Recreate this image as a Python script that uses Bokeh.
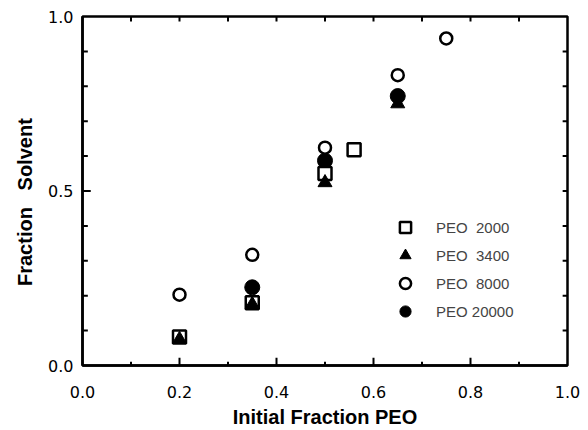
from bokeh.plotting import figure
from bokeh.models import FixedTicker, Legend, LegendItem, Range1d, CustomJSTickFormatter
from bokeh.embed import file_html
from bokeh.resources import INLINE

# Data
x_2000 = [0.20, 0.35, 0.50, 0.56]
y_2000 = [0.082, 0.18, 0.55, 0.618]

x_3400 = [0.20, 0.35, 0.50, 0.65]
y_3400 = [0.075, 0.175, 0.524, 0.75]

x_8000 = [0.20, 0.35, 0.50, 0.65, 0.75]
y_8000 = [0.203, 0.317, 0.624, 0.832, 0.937]

x_20000 = [0.35, 0.50, 0.65]
y_20000 = [0.224, 0.587, 0.772]

series_labels = ["PEO\u00a0\u00a02000", "PEO\u00a0\u00a03400", "PEO\u00a0\u00a08000", "PEO 20000"]
x_ticks = [0.0, 0.2, 0.4, 0.6, 0.8, 1.0]
x_minor = [0.1, 0.3, 0.5, 0.7, 0.9]
y_ticks = [0.0, 0.5, 1.0]
y_minor = [0.1, 0.2, 0.3, 0.4, 0.6, 0.7, 0.8, 0.9]
frame_ticks = [0.1, 0.2, 0.3, 0.4, 0.5, 0.6, 0.7, 0.8, 0.9]

FONT = "Liberation Sans"
TICK_FONT = "DejaVu Sans"

p = figure(width=586, height=430, output_backend="svg", toolbar_location=None,
           x_range=Range1d(0, 1), y_range=Range1d(0, 1),
           min_border_left=82, min_border_top=16, min_border_right=19, min_border_bottom=63)
p.xgrid.visible = False
p.ygrid.visible = False
p.outline_line_color = "black"
p.outline_line_width = 2.5

fmt = CustomJSTickFormatter(code="return tick.toFixed(1);")

for ax in (p.xaxis[0], p.yaxis[0]):
    ax.axis_line_width = 2.5
    ax.axis_line_color = "black"
    ax.major_tick_in = 0
    ax.major_tick_out = 0
    ax.minor_tick_in = 0
    ax.minor_tick_out = 0
    ax.major_tick_line_color = None
    ax.minor_tick_line_color = None
    ax.major_label_text_font = TICK_FONT
    ax.major_label_text_font_size = "16px"
    ax.major_label_text_color = "black"
    ax.axis_label_text_color = "black"
    ax.axis_label_text_font = FONT
    ax.axis_label_text_font_style = "bold"
    ax.axis_label_text_font_size = "20px"
    ax.formatter = fmt

xa = p.xaxis[0]
xa.ticker = FixedTicker(ticks=x_ticks, minor_ticks=x_minor)
xa.major_label_standoff = 20
xa.axis_label = "Initial Fraction PEO"
xa.axis_label_standoff = 5

ya = p.yaxis[0]
ya.ticker = FixedTicker(ticks=y_ticks, minor_ticks=y_minor)
ya.major_label_standoff = 9
ya.axis_label = "Fraction\u00a0\u00a0\u00a0Solvent" + "\u00a0" * 4
ya.axis_label_standoff = 9

# inward tick marks drawn from the tick lists (lengths in data units)
tk = dict(line_color="black", line_width=2)
maj_x = [t for t in x_ticks if 0 < t < 1]
maj_y = [t for t in y_ticks if 0 < t < 1]
p.segment(x0=maj_x, y0=[0] * len(maj_x), x1=maj_x, y1=[0.022] * len(maj_x), **tk)
p.segment(x0=x_minor, y0=[0] * len(x_minor), x1=x_minor, y1=[0.011] * len(x_minor), **tk)
p.segment(x0=[0] * len(maj_y), y0=maj_y, x1=[0.017] * len(maj_y), y1=maj_y, **tk)
p.segment(x0=[0] * len(y_minor), y0=y_minor, x1=[0.011] * len(y_minor), y1=y_minor, **tk)
p.segment(x0=frame_ticks, y0=[1] * 9, x1=frame_ticks, y1=[0.986] * 9, **tk)
p.segment(x0=[1] * 9, y0=frame_ticks, x1=[0.99] * 9, y1=frame_ticks, **tk)

r4 = p.scatter(x_20000, y_20000, marker="circle", size=15, fill_color="black",
               line_color="black", line_width=1)
r3 = p.scatter(x_8000, y_8000, marker="circle", size=12, fill_color="white",
               line_color="black", line_width=2.5)
r1 = p.scatter(x_2000, y_2000, marker="square", size=13, fill_color="white",
               line_color="black", line_width=2.5)
r2 = p.scatter(x_3400, y_3400, marker="triangle", size=14, fill_color="black",
               line_color="black", line_width=1)

legend = Legend(items=[LegendItem(label=series_labels[0], renderers=[r1]),
                       LegendItem(label=series_labels[1], renderers=[r2]),
                       LegendItem(label=series_labels[2], renderers=[r3]),
                       LegendItem(label=series_labels[3], renderers=[r4])],
                location=(309, 40), orientation="vertical",
                label_text_font=FONT, label_text_font_size="15px",
                label_height=28, glyph_height=28, glyph_width=28, spacing=0,
                padding=0, margin=0, label_standoff=17,
                border_line_color=None, background_fill_alpha=0)
p.add_layout(legend, "center")

open("out.html", "w").write(file_html(p, INLINE))
